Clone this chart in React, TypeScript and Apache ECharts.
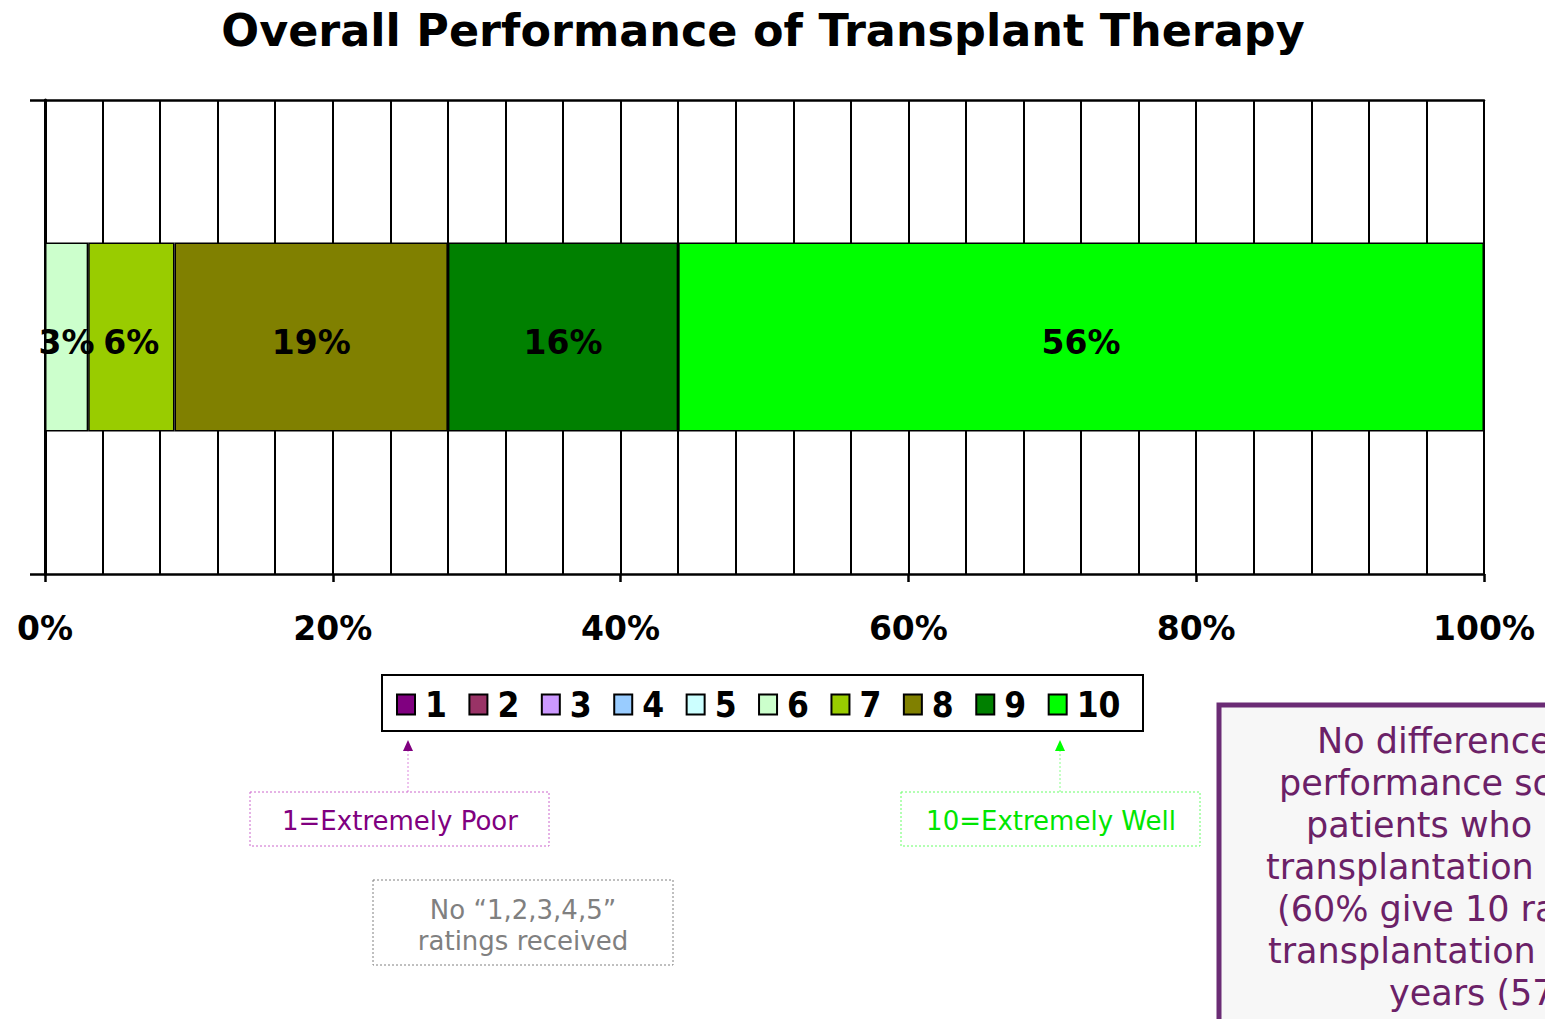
import React, { useEffect, useRef } from "react";
import * as echarts from "echarts";

const categories = ["Overall"];
const ratingNames = ["1", "2", "3", "4", "5", "6", "7", "8", "9", "10"];
const ratingValues = [0, 0, 0, 0, 0, 3, 6, 19, 16, 56];
const ratingColors = [
  "#800080", "#993366", "#CC99FF", "#99CCFF", "#CCFFFF",
  "#CCFFCC", "#99CC00", "#808000", "#008000", "#00FF00",
];
const titleText = "Overall Performance of Transplant Therapy";
const noteLines = [
  "No difference",
  "performance sc",
  "patients who",
  "transplantation",
  "(60% give 10 ra",
  "transplantation",
  "years (57",
];
const noteX = [1317, 1279, 1306, 1266, 1277, 1268, 1389];

const SANS = "'DejaVu Sans', Verdana, sans-serif";
const NARROW = "'Liberation Sans Narrow', 'Arial Narrow', 'DejaVu Sans Condensed', 'DejaVu Sans', sans-serif";

export default function App() {
  const ref = useRef<HTMLDivElement>(null);
  useEffect(() => {
    if (!ref.current) return;
    const chart = echarts.init(ref.current, null, { renderer: "svg" });
    const black = "#000";
    const series = ratingNames.map((name, i) => ({
      name,
      type: "bar",
      stack: "total",
      xAxisIndex: 0,
      barWidth: 189,
      data: [ratingValues[i]],
      itemStyle: { color: ratingColors[i], borderColor: black, borderWidth: 1.5 },
      label: {
        show: true,
        position: "inside",
        offset: [0, 5],
        formatter: (p: any) => (p.value > 0 ? p.value + "%" : ""),
        color: black,
        fontSize: 33,
        fontWeight: "bold",
        fontFamily: SANS,
      },
    }));

    const noteTexts = noteLines.map((t, i) => ({
      type: "text",
      x: noteX[i],
      y: 741 + i * 42,
      style: {
        text: t,
        fill: "#6B2167",
        font: `35px ${SANS}`,
        textAlign: "left",
        textVerticalAlign: "middle",
      },
    }));

    chart.setOption({
      animation: false,
      backgroundColor: "#fff",
      grid: { left: 45, right: 61, top: 100, bottom: 445, containLabel: false },
      xAxis: [
        {
          type: "value",
          min: 0,
          max: 100,
          interval: 20,
          axisLine: { show: true, lineStyle: { color: black, width: 2.5 } },
          axisTick: { show: true, inside: false, length: 8, lineStyle: { color: black, width: 2.5 } },
          axisLabel: {
            formatter: "{value}%",
            color: black,
            fontSize: 33,
            fontWeight: "bold",
            fontFamily: SANS,
            margin: 38,
          },
          splitLine: { show: true, lineStyle: { color: black, width: 2 } },
          minorTick: { show: false, splitNumber: 5 },
          minorSplitLine: { show: true, lineStyle: { color: black, width: 2 } },
        },
        {
          type: "value",
          position: "top",
          min: 0,
          max: 100,
          axisLine: { show: true, lineStyle: { color: black, width: 2.5 } },
          axisTick: { show: false },
          axisLabel: { show: false },
          splitLine: { show: false },
        },
      ],
      yAxis: {
        type: "category",
        data: categories,
        axisLine: { show: true, lineStyle: { color: black, width: 3 } },
        axisTick: { show: true, length: 15, lineStyle: { color: black, width: 2.5 } },
        axisLabel: { show: false },
        splitLine: { show: false },
      },
      legend: {
        data: ratingNames,
        left: 391,
        top: 682,
        orient: "horizontal",
        icon: "rect",
        itemWidth: 18,
        itemHeight: 20,
        itemGap: 21.5,
        selectedMode: false,
        textStyle: {
          color: black,
          fontSize: 35,
          fontWeight: "bold",
          fontFamily: NARROW,
          padding: [0, 0, 0, 5],
        },
      },
      series,
      graphic: [
        {
          type: "text",
          x: 763,
          y: 30,
          style: {
            text: titleText,
            fill: black,
            font: `bold 44.5px ${SANS}`,
            textAlign: "center",
            textVerticalAlign: "middle",
          },
        },
        {
          type: "rect",
          shape: { x: 382, y: 675, width: 761, height: 56 },
          style: { fill: "none", stroke: black, lineWidth: 2 },
        },
        // arrow to rating 1
        {
          type: "line",
          shape: { x1: 408, y1: 750, x2: 408, y2: 792 },
          style: { stroke: "#DD88DD", lineWidth: 1, lineDash: [2, 2] },
        },
        {
          type: "polygon",
          shape: { points: [[403, 751], [413, 751], [408, 740]] },
          style: { fill: "#800080" },
        },
        {
          type: "rect",
          shape: { x: 250, y: 792, width: 299, height: 54 },
          style: { fill: "#fff", stroke: "#CC66CC", lineWidth: 1, lineDash: [2, 2] },
        },
        {
          type: "text",
          x: 400,
          y: 821,
          style: {
            text: "1=Extremely Poor",
            fill: "#800080",
            font: `26px ${SANS}`,
            textAlign: "center",
            textVerticalAlign: "middle",
          },
        },
        // arrow to rating 10
        {
          type: "line",
          shape: { x1: 1060, y1: 750, x2: 1060, y2: 792 },
          style: { stroke: "#88FF88", lineWidth: 1, lineDash: [2, 2] },
        },
        {
          type: "polygon",
          shape: { points: [[1055, 751], [1065, 751], [1060, 740]] },
          style: { fill: "#00FF00" },
        },
        {
          type: "rect",
          shape: { x: 901, y: 792, width: 299, height: 54 },
          style: { fill: "#fff", stroke: "#66FF66", lineWidth: 1, lineDash: [2, 2] },
        },
        {
          type: "text",
          x: 1051,
          y: 821,
          style: {
            text: "10=Extremely Well",
            fill: "#00E600",
            font: `26px ${SANS}`,
            textAlign: "center",
            textVerticalAlign: "middle",
          },
        },
        // gray note
        {
          type: "rect",
          shape: { x: 373, y: 880, width: 300, height: 85 },
          style: { fill: "#fff", stroke: "#808080", lineWidth: 1, lineDash: [2, 2] },
        },
        {
          type: "text",
          x: 523,
          y: 925,
          style: {
            text: "No \u201C1,2,3,4,5\u201D\nratings received",
            fill: "#808080",
            font: `26px ${SANS}`,
            lineHeight: 31,
            textAlign: "center",
            textVerticalAlign: "middle",
          },
        },
        // right note box
        {
          type: "rect",
          shape: { x: 1219, y: 705, width: 400, height: 400 },
          style: { fill: "#F7F7F7", stroke: "#6B2C75", lineWidth: 5 },
        },
        ...noteTexts,
      ],
    });
    return () => chart.dispose();
  }, []);
  return (
    <div
      ref={ref}
      style={{ position: "absolute", left: 0, top: 0, width: 1545, height: 1019 }}
    />
  );
}
